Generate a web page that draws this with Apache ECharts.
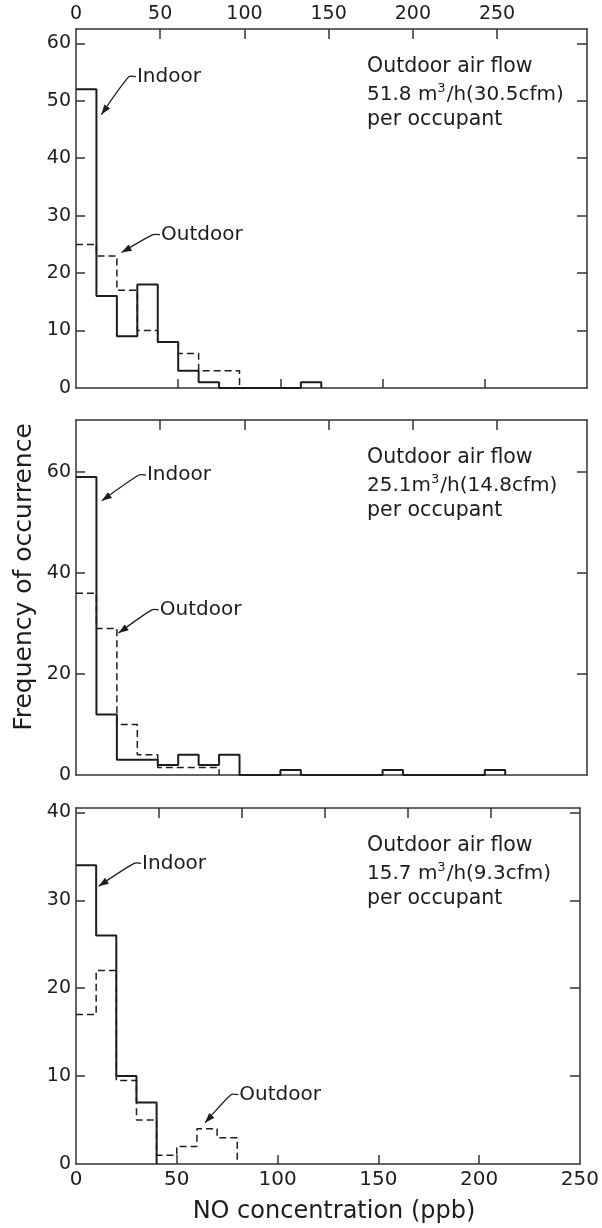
<!DOCTYPE html>
<html>
<head>
<meta charset="utf-8">
<script src="https://cdn.jsdelivr.net/npm/echarts@6/dist/echarts.min.js"></script>
<style>
  html, body { margin: 0; padding: 0; background: #ffffff; }
  #chart { width: 602px; height: 1228px; }
</style>
</head>
<body>
<div id="chart"></div>
<script>
// NO concentration histograms, 10 ppb bins starting at 0 ppb
const binWidth = 10;

// Frequency of occurrence per bin, panel 1 (51.8 m3/h per occupant)
const topIndoor  = [52, 16, 9, 18, 8, 3, 1, 0, 0, 0, 0, 1];
const topOutdoor = [25, 23, 17, 10, 8, 6, 3, 3];

// Panel 2 (25.1 m3/h per occupant)
const midIndoor  = [59, 12, 3, 3, 2, 4, 2, 4, 0, 0, 1, 0, 0, 0, 0, 1, 0, 0, 0, 0, 1];
const midOutdoor = [36, 29, 10, 4, 1.5, 1.5, 1.5];

// Panel 3 (15.7 m3/h per occupant)
const botIndoor  = [34, 26, 10, 7];
const botOutdoor = [17, 22, 9.5, 5, 1, 2, 4, 3];

// Tick labels
const upperScaleLabels = [0, 50, 100, 150, 200, 250];
const lowerScaleLabels = [0, 50, 100, 150, 200, 250];
const topYLabels = [0, 10, 20, 30, 40, 50, 60];
const midYLabels = [0, 20, 40, 60];
const botYLabels = [0, 10, 20, 30, 40];

// Panel captions
const flowCaptions = [
  { rate: '51.8 m', tail: '/h(30.5cfm)' },
  { rate: '25.1m',  tail: '/h(14.8cfm)' },
  { rate: '15.7 m', tail: '/h(9.3cfm)' }
];

const FONT = 'DejaVu Sans';
const INK = '#1d1d1d';
const AXIS = '#333333';

// step outline of a histogram: each value holds across its bin, closing at zero
function outline(values) {
  const pts = values.map((v, i) => [i * binWidth, v]);
  pts.push([values.length * binWidth, 0]);
  return pts;
}

const gridBoxes = [
  { left: 76, right: 15, top: 29, height: 359 },
  { left: 76, right: 15, top: 420, height: 355 },
  { left: 76, right: 15, top: 808, height: 356 }
];
const yMax = [62.5, 70.3, 40.5];
const upperScaleMax = 303.4;

const panelCfg = [
  { yTicksLeft: [10, 20, 30, 40, 50, 60], yLabels: topYLabels, yTicksRight: [10, 20, 30, 40, 50, 60],
    topLabels: upperScaleLabels, lowerTicks: [50, 100, 150, 200], lowerLabels: null },
  { yTicksLeft: [20, 40, 60], yLabels: midYLabels, yTicksRight: [20, 40, 60],
    topLabels: null, lowerTicks: [], lowerLabels: null },
  { yTicksLeft: [10, 20, 30, 40], yLabels: botYLabels, yTicksRight: [10, 20, 30, 40],
    topLabels: null, lowerTicks: [50, 100, 150, 200], lowerLabels: lowerScaleLabels }
];

const axisLineStyle = { show: true, onZero: false, lineStyle: { color: AXIS, width: 1.5 } };
const labelFont = { fontFamily: FONT, fontSize: 19, color: INK };

const xAxes = [], yAxes = [];
panelCfg.forEach((p, g) => {
  xAxes.push({
    gridIndex: g, type: 'value', min: 0, max: 250, position: 'bottom',
    axisLine: axisLineStyle, splitLine: { show: false },
    axisTick: { show: p.lowerTicks.length > 0, inside: true, length: 9,
      lineStyle: { color: AXIS, width: 1.5 }, customValues: p.lowerTicks },
    axisLabel: p.lowerLabels
      ? Object.assign({ show: true, margin: 6, customValues: p.lowerLabels }, labelFont, { fontSize: 20 })
      : { show: false }
  });
  xAxes.push({
    gridIndex: g, type: 'value', min: 0, max: upperScaleMax, position: 'top',
    axisLine: axisLineStyle, splitLine: { show: false },
    axisTick: { show: true, inside: true, length: 10,
      lineStyle: { color: AXIS, width: 1.5 }, customValues: [50, 100, 150, 200, 250] },
    axisLabel: p.topLabels
      ? Object.assign({ show: true, margin: 5, customValues: p.topLabels }, labelFont)
      : { show: false }
  });
  yAxes.push({
    gridIndex: g, type: 'value', min: 0, max: yMax[g], position: 'left',
    axisLine: axisLineStyle, splitLine: { show: false },
    axisTick: { show: true, inside: true, length: 9,
      lineStyle: { color: AXIS, width: 1.5 }, customValues: p.yTicksLeft },
    axisLabel: Object.assign({ show: true, margin: 5, customValues: p.yLabels }, labelFont)
  });
  yAxes.push({
    gridIndex: g, type: 'value', min: 0, max: yMax[g], position: 'right',
    axisLine: axisLineStyle, splitLine: { show: false },
    axisTick: { show: true, inside: true, length: 10,
      lineStyle: { color: AXIS, width: 1.5 }, customValues: p.yTicksRight },
    axisLabel: { show: false }
  });
});

const histograms = [
  [topIndoor, topOutdoor],
  [midIndoor, midOutdoor],
  [botIndoor, botOutdoor]
];

const series = [];
histograms.forEach((pair, g) => {
  series.push({
    name: 'Outdoor', type: 'line', step: 'end', xAxisIndex: 2 * g, yAxisIndex: 2 * g,
    data: outline(pair[1]), symbol: 'none', silent: true, animation: false,
    lineStyle: { color: INK, width: 1.5, type: [7, 4] }, z: 2
  });
  series.push({
    name: 'Indoor', type: 'line', step: 'end', xAxisIndex: 2 * g, yAxisIndex: 2 * g,
    data: outline(pair[0]), symbol: 'none', silent: true, animation: false,
    lineStyle: { color: INK, width: 2 }, z: 3
  });
});

const chart = echarts.init(document.getElementById('chart'), null, { renderer: 'canvas' });
chart.setOption({
  backgroundColor: '#ffffff',
  animation: false,
  grid: gridBoxes,
  xAxis: xAxes,
  yAxis: yAxes,
  series: series
});

// Callouts: label anchor and arrow tip, both in data units of the panel
const callouts = [
  { g: 0, text: 'Indoor',  at: [29.8, 54.2], tip: [12.4, 47.6] },
  { g: 0, text: 'Outdoor', at: [41.6, 26.7], tip: [22.3, 23.6] },
  { g: 1, text: 'Indoor',  at: [34.7, 59.4], tip: [12.6, 54.3] },
  { g: 1, text: 'Outdoor', at: [41.0, 32.7], tip: [20.8, 28.1] },
  { g: 2, text: 'Indoor',  at: [32.8, 34.2], tip: [11.2, 31.6] },
  { g: 2, text: 'Outdoor', at: [81.0, 7.9],  tip: [64.0, 4.7] }
];

const graphics = [];
callouts.forEach(c => {
  const finder = { xAxisIndex: 2 * c.g, yAxisIndex: 2 * c.g };
  const a = chart.convertToPixel(finder, c.at);
  const t = chart.convertToPixel(finder, c.tip);
  graphics.push({
    type: 'text', x: a[0], y: a[1], silent: true,
    style: { text: c.text, fontFamily: FONT, fontSize: 20, fill: INK, align: 'left', verticalAlign: 'middle' }
  });
  const start = [a[0] - 1, a[1]];
  const knee = [a[0] - 8, a[1]];
  graphics.push({
    type: 'polyline', silent: true,
    shape: { points: [start, knee, t], smooth: 0.25 },
    style: { stroke: INK, lineWidth: 1.3, fill: null }
  });
  const dx = t[0] - knee[0], dy = t[1] - knee[1];
  const len = Math.hypot(dx, dy);
  const ux = dx / len, uy = dy / len;
  const L = 10, W = 3.6;
  graphics.push({
    type: 'polygon', silent: true,
    shape: { points: [
      [t[0], t[1]],
      [t[0] - ux * L - uy * W, t[1] - uy * L + ux * W],
      [t[0] - ux * L + uy * W, t[1] - uy * L - ux * W]
    ] },
    style: { fill: INK }
  });
});

// Ventilation caption in the upper right of each panel
flowCaptions.forEach((cap, g) => {
  const top = gridBoxes[g].top;
  const x = 367;
  graphics.push({
    type: 'text', x: x, y: top + 38, silent: true,
    style: { text: 'Outdoor air flow', fontFamily: FONT, fontSize: 20.5, fill: INK, verticalAlign: 'middle' }
  });
  graphics.push({
    type: 'text', x: x, y: top + 66, silent: true,
    style: {
      text: '{b|' + cap.rate + '}{s|3}{b|' + cap.tail + '}',
      verticalAlign: 'middle',
      rich: {
        b: { fontFamily: FONT, fontSize: 20, fill: INK, color: INK, lineHeight: 26 },
        s: { fontFamily: FONT, fontSize: 13, fill: INK, color: INK, lineHeight: 26, padding: [0, 1, 12, 0] }
      }
    }
  });
  graphics.push({
    type: 'text', x: x, y: top + 91, silent: true,
    style: { text: 'per occupant', fontFamily: FONT, fontSize: 20.5, fill: INK, verticalAlign: 'middle' }
  });
});

// Shared axis titles
graphics.push({
  type: 'text', x: 24, y: 577, rotation: Math.PI / 2, silent: true,
  style: { text: 'Frequency of occurrence', fontFamily: FONT, fontSize: 25, fill: INK,
    align: 'center', verticalAlign: 'middle' }
});
graphics.push({
  type: 'text', x: 334, y: 1212, silent: true,
  style: { text: 'NO concentration (ppb)', fontFamily: FONT, fontSize: 24, fill: INK,
    align: 'center', verticalAlign: 'middle' }
});

chart.setOption({ graphic: { elements: graphics } });
</script>
</body>
</html>
